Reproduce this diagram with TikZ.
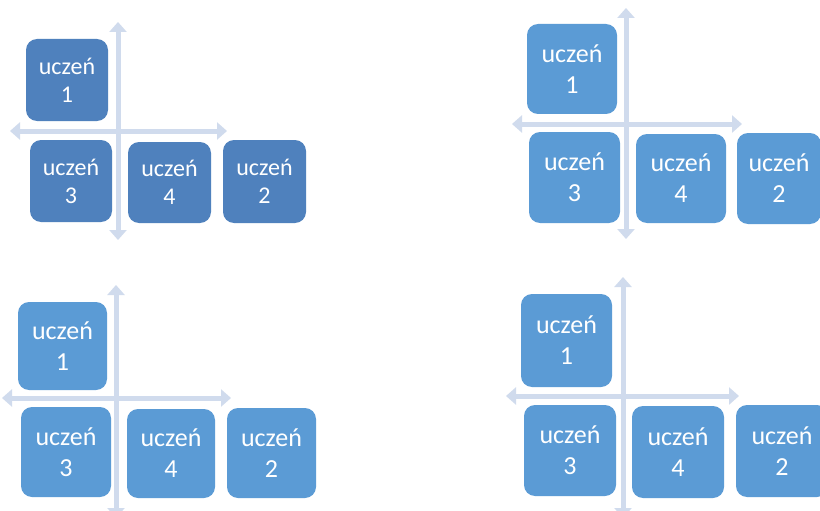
\documentclass[tikz,border=0pt]{standalone}
\usepackage{fontspec}
\setmainfont{Carlito}
\usetikzlibrary{arrows.meta}
\definecolor{darkblue}{RGB}{79,129,189}
\definecolor{lightblue}{RGB}{91,155,213}
\definecolor{axiscol}{RGB}{208,219,237}
\tikzset{
  tile/.style={rounded corners=11pt, fill=#1, text=white, align=center, inner sep=0pt},
  tileA/.style={tile=darkblue, font=\fontsize{24}{28}\selectfont},
  tileB/.style={tile=lightblue, font=\fontsize{26}{31}\selectfont},
  axisline/.style={draw=axiscol, line width=5pt,
    {Triangle[width=17pt,length=10pt]}-{Triangle[width=17pt,length=10pt]}}
}
\begin{document}
\begin{tikzpicture}[x=1pt,y=-1pt]
\useasboundingbox (0,0) rectangle (820,511);
\clip (0,0) rectangle (820,511);
\fill[white] (0,0) rectangle (820,511);

% ---------- panel 1 ----------
\coordinate (p1t) at (118,22);
\coordinate (p1b) at (118,240);
\coordinate (p1l) at (10,131);
\coordinate (p1r) at (227,131);
\draw[axisline] (p1b) -- (p1t);
\draw[axisline] (p1l) -- (p1r);
\node[tileA, minimum width=82pt, minimum height=82pt] (p1u1) at (67,80) {uczeń\\1};
\node[tileA, minimum width=82pt, minimum height=82pt] (p1u3) at (71,181) {uczeń\\3};
\node[tileA, minimum width=83pt, minimum height=81pt] (p1u4) at (169.5,182.5) {uczeń\\4};
\node[tileA, minimum width=83pt, minimum height=83pt] (p1u2) at (264.5,181.5) {uczeń\\2};

% ---------- panel 2 ----------
\coordinate (p2t) at (626,8);
\coordinate (p2b) at (626,239);
\coordinate (p2l) at (512,124);
\coordinate (p2r) at (742,124);
\draw[axisline] (p2b) -- (p2t);
\draw[axisline] (p2l) -- (p2r);
\node[tileB, minimum width=90pt, minimum height=90pt] (p2u1) at (572,69) {uczeń\\1};
\node[tileB, minimum width=91pt, minimum height=91pt] (p2u3) at (574.5,177.5) {uczeń\\3};
\node[tileB, minimum width=90pt, minimum height=89pt] (p2u4) at (681,178.5) {uczeń\\4};
\node[tileB, minimum width=84pt, minimum height=91pt] (p2u2) at (779,178.5) {uczeń\\2};

% ---------- panel 3 ----------
\coordinate (p3t) at (116,285);
\coordinate (p3b) at (116,518);
\coordinate (p3l) at (2,398);
\coordinate (p3r) at (231,398);
\draw[axisline] (p3b) -- (p3t);
\draw[axisline] (p3l) -- (p3r);
\node[tileB, minimum width=89pt, minimum height=88pt] (p3u1) at (62.5,346) {uczeń\\1};
\node[tileB, minimum width=90pt, minimum height=90pt] (p3u3) at (66,452) {uczeń\\3};
\node[tileB, minimum width=88pt, minimum height=89pt] (p3u4) at (171,453.5) {uczeń\\4};
\node[tileB, minimum width=89pt, minimum height=90pt] (p3u2) at (271.5,453) {uczeń\\2};

% ---------- panel 4 ----------
\coordinate (p4t) at (623,277);
\coordinate (p4b) at (623,518);
\coordinate (p4l) at (506,396);
\coordinate (p4r) at (739,396);
\draw[axisline] (p4b) -- (p4t);
\draw[axisline] (p4l) -- (p4r);
\node[tileB, minimum width=91pt, minimum height=93pt] (p4u1) at (566.5,340.5) {uczeń\\1};
\node[tileB, minimum width=92pt, minimum height=91pt] (p4u3) at (570,450.5) {uczeń\\3};
\node[tileB, minimum width=92pt, minimum height=92pt] (p4u4) at (678,452) {uczeń\\4};
\node[tileB, minimum width=92pt, minimum height=92pt] (p4u2) at (782,451) {uczeń\\2};
\end{tikzpicture}
\end{document}
